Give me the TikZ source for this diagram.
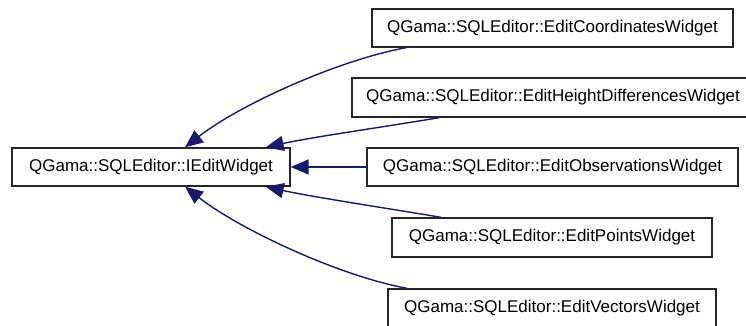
\documentclass[tikz,border=0pt]{standalone}
\usepackage{fontspec}
\setmainfont{Liberation Sans}
\usetikzlibrary{arrows.meta}
\definecolor{edgeblue}{RGB}{25,25,112}
\tikzset{
  cls/.style={draw=black!85, line width=1.3pt, fill=white, inner sep=0pt,
    minimum height=38pt, font=\fontsize{17}{20}\selectfont},
  inh/.style={draw=edgeblue, line width=1.4pt,
    {Triangle[length=18pt,width=15pt,fill=edgeblue]}-},
}
\begin{document}
\begin{tikzpicture}[x=1pt,y=-1pt]
  \useasboundingbox (0,0) rectangle (746,325);
  \clip (0,0) rectangle (746,325);

  % base class
  \node[cls, minimum width=278pt] (base) at (151,167) {QGama::SQLEditor::IEditWidget};

  % derived classes
  \node[cls, minimum width=361pt] (coord) at (552.5,28)   {QGama::SQLEditor::EditCoordinatesWidget};
  \node[cls, minimum width=402pt, minimum height=39pt] (height) at (553,97.5) {QGama::SQLEditor::EditHeightDifferencesWidget};
  \node[cls, minimum width=371pt] (obs)   at (552.5,167)  {QGama::SQLEditor::EditObservationsWidget};
  \node[cls, minimum width=320pt, minimum height=39pt] (pts) at (552,237.5) {QGama::SQLEditor::EditPointsWidget};
  \node[cls, minimum width=328pt] (vec)   at (552,308)    {QGama::SQLEditor::EditVectorsWidget};

  % inheritance arrows
  \draw[inh] ([xshift=34pt]base.north) .. controls +(55,-43) and +(-67,12) .. ([xshift=35pt]coord.south west);
  \draw[inh] ([xshift=-25pt]base.north east) .. controls +(45,-10) and +(-60,10) .. ([xshift=88pt]height.south west);
  \draw[inh] (base.east) -- (obs.west);
  \draw[inh] ([xshift=-25pt]base.south east) .. controls +(45,10) and +(-60,-10) .. ([xshift=50pt]pts.north west);
  \draw[inh] ([xshift=34pt]base.south) .. controls +(55,43) and +(-67,-12) .. ([xshift=20pt]vec.north west);
\end{tikzpicture}
\end{document}
